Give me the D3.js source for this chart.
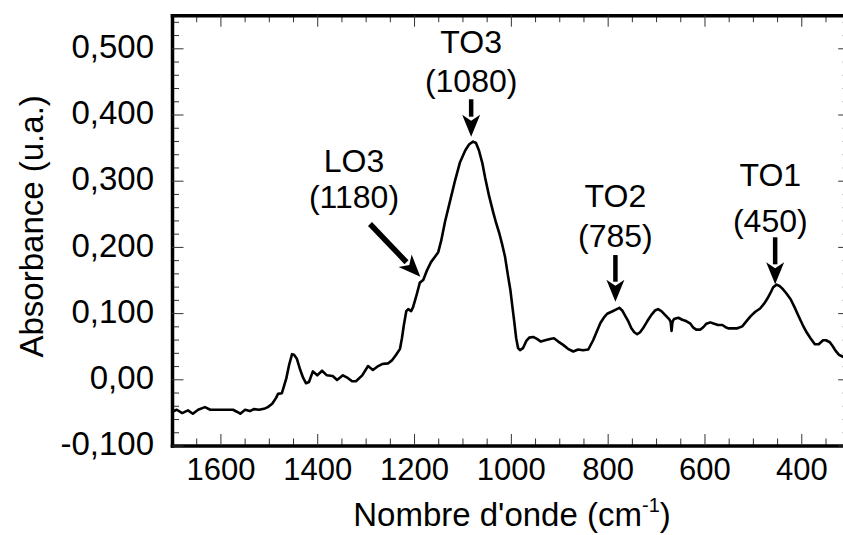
<!DOCTYPE html>
<html>
<head>
<meta charset="utf-8">
<script src="https://cdn.jsdelivr.net/npm/d3@7"></script>
<style>
  html, body { margin: 0; padding: 0; background: #fff; }
  svg { display: block; font-family: "Liberation Sans", Arial, sans-serif; }
</style>
</head>
<body>
<svg id="chart" width="843" height="535"></svg>
<script>
// ---- data ----
const wavenumber = [1700,1690,1679,1667,1657,1646,1632,1621,1605,1588,
  1574,1566,1559,1549,1539,1531,1520,1508,1502,1493,
  1485,1481,1473,1464,1458,1452,1448,1442,1435,1429,
  1423,1417,1409,1400,1390,1380,1368,1359,1347,1337,
  1328,1320,1307,1295,1285,1274,1266,1254,1245,1237,
  1229,1225,1221,1216,1212,1206,1202,1196,1188,1181,
  1173,1165,1156,1150,1144,1136,1125,1115,1105,1094,
  1086,1078,1072,1066,1059,1053,1045,1036,1030,1024,
  1018,1012,1006,1001,997,993,989,985,981,975,
  968,962,954,946,938,929,919,911,902,892,
  882,871,861,851,840,830,822,815,807,801,
  792,784,776,770,764,757,751,745,739,733,
  727,718,710,702,696,689,681,673,670,668,
  666,663,654,646,638,629,623,617,609,602,
  596,588,580,572,563,557,551,543,532,522,
  514,505,495,485,476,470,464,458,451,445,
  439,431,422,414,406,397,389,381,372,364,
  355,349,341,335,329,322,314,307,300];
const absorbance = [-0.049,-0.046,-0.051,-0.047,-0.052,-0.046,-0.042,-0.046,-0.046,-0.046,
  -0.046,-0.049,-0.052,-0.046,-0.048,-0.045,-0.046,-0.044,-0.042,-0.037,
  -0.028,-0.022,-0.021,0.001,0.022,0.038,0.037,0.031,0.014,0.002,
  -0.006,-0.004,0.012,0.006,0.013,0.006,0.005,-0.001,0.006,0.002,
  -0.003,-0.003,0.006,0.020,0.014,0.020,0.023,0.024,0.029,0.037,
  0.046,0.062,0.082,0.103,0.106,0.103,0.109,0.124,0.146,0.150,
  0.165,0.177,0.186,0.192,0.209,0.238,0.271,0.301,0.328,0.346,
  0.355,0.359,0.357,0.346,0.327,0.304,0.277,0.251,0.235,0.221,
  0.204,0.185,0.157,0.135,0.111,0.087,0.062,0.047,0.044,0.047,
  0.058,0.063,0.064,0.061,0.057,0.059,0.061,0.062,0.057,0.052,
  0.046,0.042,0.045,0.044,0.045,0.059,0.073,0.085,0.094,0.099,
  0.102,0.105,0.108,0.104,0.096,0.087,0.077,0.071,0.068,0.071,
  0.077,0.088,0.097,0.104,0.106,0.103,0.097,0.091,0.087,0.073,
  0.087,0.091,0.093,0.090,0.088,0.084,0.078,0.075,0.075,0.079,
  0.084,0.086,0.084,0.082,0.082,0.079,0.077,0.077,0.077,0.080,
  0.087,0.095,0.102,0.107,0.115,0.122,0.130,0.139,0.143,0.141,
  0.137,0.130,0.121,0.109,0.096,0.082,0.071,0.062,0.053,0.053,
  0.059,0.059,0.056,0.050,0.043,0.037,0.034,0.032,0.030];

const xTickValues = [1600, 1400, 1200, 1000, 800, 600, 400];
const xTickLabels = ["1600", "1400", "1200", "1000", "800", "600", "400"];
const yTickValues = [-0.1, 0, 0.1, 0.2, 0.3, 0.4, 0.5];
const yTickLabels = ["-0,100", "0,00", "0,100", "0,200", "0,300", "0,400", "0,500"];
const xMinorTicks = d3.range(1650, 300, -50).filter(v => v % 200 !== 0);
const yMinorTicks = d3.range(-0.08, 0.55, 0.02).filter(v => Math.abs(Math.round(v * 10) - v * 10) > 1e-6);

// annotation: label lines, label position (wavenumber, absorbance), arrow tail and tip
const annLabels = ["TO3", "LO3", "TO2", "TO1"];
const annValues = ["(1080)", "(1180)", "(785)", "(450)"];
const annLabelWn = [1082, 1324, 784, 464];
const annLabelAbs = [0.4925, 0.3136, 0.2607, 0.292];
const annValueAbs = [0.4344, 0.2583, 0.1994, 0.223];
const annTailWn = [1082, 1291, 784, 454];
const annTailAbs = [0.423, 0.2346, 0.1877, 0.2145];
const annTipWn = [1082, 1187, 784, 454];
const annTipAbs = [0.3665, 0.155, 0.1172, 0.1435];

// ---- chart ----
const svg = d3.select("#chart");
const x = d3.scaleLinear().domain([1700, 300]).range([172, 849.7]);
const y = d3.scaleLinear().domain([-0.1, 0.55]).range([445.5, 15.2]);
const [x0, x1] = x.range();
const [yb, yt] = y.range();

const tickColor = "#333";

// minor ticks
function minor(axisGen, transform) {
  const g = svg.append("g").attr("transform", transform).call(axisGen);
  g.select(".domain").remove();
  g.selectAll("text").remove();
  g.selectAll("line").attr("stroke", tickColor).attr("stroke-width", 1);
}
minor(d3.axisBottom(x).tickValues(xMinorTicks).tickSize(-7), `translate(0,${yb})`);
minor(d3.axisTop(x).tickValues(xMinorTicks).tickSize(-7), `translate(0,${yt})`);
minor(d3.axisLeft(y).tickValues(yMinorTicks).tickSize(-7), `translate(${x0},0)`);
minor(d3.axisRight(y).tickValues(yMinorTicks).tickSize(-7), `translate(${x1},0)`);

// major ticks with labels
const gx = svg.append("g").attr("transform", `translate(0,${yb})`)
  .call(d3.axisBottom(x).tickValues(xTickValues).tickSize(-11.5).tickSizeOuter(0).tickPadding(12)
    .tickFormat((d, i) => xTickLabels[i]));
gx.selectAll("text").attr("font-size", 31).attr("fill", "#000").attr("font-family", "Liberation Sans, Arial, sans-serif");

const gy = svg.append("g").attr("transform", `translate(${x0},0)`)
  .call(d3.axisLeft(y).tickValues(yTickValues).tickSize(-11.5).tickSizeOuter(0).tickPadding(18)
    .tickFormat((d, i) => yTickLabels[i]));
gy.selectAll("text").attr("font-size", 33).attr("fill", "#000").attr("dy", "0.28em").attr("font-family", "Liberation Sans, Arial, sans-serif");

const gxt = svg.append("g").attr("transform", `translate(0,${yt})`)
  .call(d3.axisTop(x).tickValues(xTickValues).tickSize(-11.5).tickSizeOuter(0).tickFormat(""));
const gyr = svg.append("g").attr("transform", `translate(${x1},0)`)
  .call(d3.axisRight(y).tickValues(yTickValues).tickSize(-11.5).tickSizeOuter(0).tickFormat(""));

[gx, gy, gxt, gyr].forEach(g => {
  g.selectAll(".tick line").attr("stroke", tickColor).attr("stroke-width", 1);
  g.select(".domain").attr("stroke", "#000").attr("stroke-width", 3.5).attr("stroke-linecap", "square");
});

// spectrum
const pts = wavenumber.map((w, i) => [w, absorbance[i]]);
svg.append("path")
  .datum(pts)
  .attr("fill", "none")
  .attr("stroke", "#000")
  .attr("stroke-width", 2.6)
  .attr("stroke-linejoin", "round")
  .attr("d", d3.line().x(d => x(d[0])).y(d => y(d[1])));

// annotations
const annG = svg.append("g");
annLabels.forEach((lab, i) => {
  annG.append("text").attr("x", x(annLabelWn[i])).attr("y", y(annLabelAbs[i]))
    .attr("text-anchor", "middle").attr("font-size", 32).text(lab);
  annG.append("text").attr("x", x(annLabelWn[i])).attr("y", y(annValueAbs[i]))
    .attr("text-anchor", "middle").attr("font-size", 32).text(annValues[i]);
  const tx = x(annTailWn[i]), ty = y(annTailAbs[i]);
  const px = x(annTipWn[i]), py = y(annTipAbs[i]);
  const ang = Math.atan2(py - ty, px - tx);
  const headLen = 22, headHalf = 9;
  const bx = px - headLen * Math.cos(ang), by = py - headLen * Math.sin(ang);
  annG.append("line").attr("x1", tx).attr("y1", ty).attr("x2", bx + 2 * Math.cos(ang)).attr("y2", by + 2 * Math.sin(ang))
    .attr("stroke", "#000").attr("stroke-width", i === 1 ? 5.5 : 4.5);
  const nx = -Math.sin(ang), ny = Math.cos(ang);
  annG.append("path")
    .attr("d", `M${px},${py}L${bx + nx * headHalf},${by + ny * headHalf}L${bx + 6 * Math.cos(ang)},${by + 6 * Math.sin(ang)}L${bx - nx * headHalf},${by - ny * headHalf}Z`)
    .attr("fill", "#000");
});

// axis titles
const xt = svg.append("text").attr("x", 512).attr("y", 526)
  .attr("text-anchor", "middle").attr("font-size", 33);
xt.append("tspan").text("Nombre d'onde (cm");
xt.append("tspan").attr("font-size", 20).attr("dy", -14).text("-1");
xt.append("tspan").attr("dy", 14).text(")");

svg.append("text").attr("transform", `translate(43,${(yb + yt) / 2 - 4}) rotate(-90)`)
  .attr("text-anchor", "middle").attr("font-size", 33).text("Absorbance (u.a.)");
</script>
</body>
</html>
